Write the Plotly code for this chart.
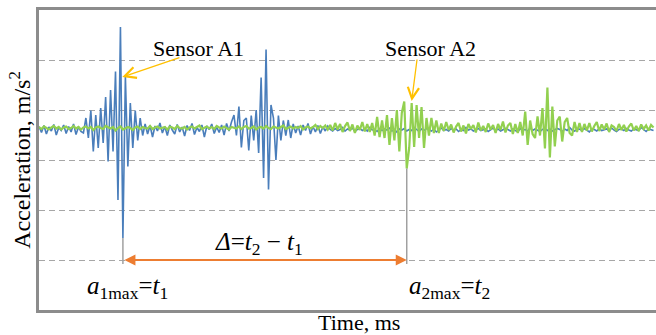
import plotly.graph_objects as go

# ---------------- data ----------------
SAMPLE_MS = 0.2  # sampling interval of both records, ms

# Sensor A1 (blue) acceleration record, m/s^2
sensor_a1 = [
    0.3, -0.9, 0.5, -1.2, 0.2, -0.6, 0.7, -1.4, 0.1, -0.5,
    0.6, -1.1, 0.3, -0.8, 0.8, -1.3, 0.2, -0.7, -1.0, 2.0,
    -2.0, 3.5, -4.7, 2.6, -4.0, 4.0, -3.0, 6.2, -6.7, 7.6,
    -4.7, 11.3, -14.4, 20.2, -22.0, 10.3, -7.7, 5.0, -4.0, 3.5,
    -2.5, 2.0, -1.5, 0.8, -1.2, 0.5, -1.8, 0.4, -0.6, 1.0,
    -1.0, 0.3, -1.5, 0.6, -0.4, -1.2, 0.7, -0.8, 0.2, -1.6,
    0.5, -0.5, 0.9, -1.3, 0.1, -0.7, 0.6, -1.8, 0.4, -0.3,
    0.8, -1.1, 0.2, -0.9, 0.6, -1.4, 0.9, -0.6, 1.2, 2.6,
    -1.5, 4.3, -3.9, 1.5, 2.0, -4.5, 2.5, -2.5, 3.6, -5.0,
    10.1, -10.0, 15.7, -12.3, 4.6, 2.0, -6.4, 2.5, -2.5, 1.5,
    -1.5, 1.6, -2.0, 0.8, -1.0, 0.4, -1.4, 0.6, -0.5, 0.9,
    -1.2, 0.3, -0.8, 0.5, -1.1, 0.2, -0.6, 0.4, -0.3, -0.6,
    -0.1, -0.5, -0.3, 0.1, -0.6, -0.2, -0.4, 0.0, -0.7, -0.3,
    -0.1, -0.5, -0.2, -0.6, 0.1, -0.4, -0.3, -0.7, -0.1, -0.5,
    -0.2, -0.4, 0.0, -0.6, -0.3, -0.8, -0.2, -0.4, -0.1, -0.6,
    -0.3, -0.5, 0.1, -0.4, -0.7, -0.2, -0.5, -0.1, -0.3, -0.6,
    -0.2, -0.8, -0.4, 0.0, -0.5, -0.3, -0.6, -0.1, -0.4, -0.2,
    -0.7, -0.3, -0.5, 0.1, -0.4, -0.2, -0.6, -0.3, -0.1, -0.5,
    -0.4, -0.2, -0.7, -0.3, 0.0, -0.5, -0.2, -0.6, -0.4, -0.1,
    -0.3, -0.6, -0.2, -0.5, -0.8, -0.1, -0.4, -0.3, -0.6, 0.0,
    -0.5, -0.2, -0.4, -0.7, -0.3, -0.1, -0.5, -0.2, -0.6, -0.4,
    -0.1, -0.3, -0.7, -0.2, -0.5, 0.1, -0.4, -0.6, -0.3, -0.2,
    -0.5, -0.1, -0.4, -0.8, -0.2, -0.3, -0.6, -0.1, -0.5, -0.3,
    -0.2, -0.6, 0.0, -0.4, -0.7, -0.3, -0.2, -0.5, -0.1, -0.4,
    -0.6, -0.2, -0.3, -0.5, 0.1, -0.4, -0.7, -0.2, -0.3, -0.5,
]

# Sensor A2 (green) acceleration record, m/s^2
sensor_a2 = [
    0.2, -0.2, 0.3, 0.0, -0.3, 0.1, 0.4, -0.1, 0.2, -0.3,
    0.1, 0.3, -0.2, 0.0, 0.4, -0.1, 0.2, -0.3, 0.1, 0.3,
    -0.1, 0.2, -0.4, 0.1, 0.3, 0.0, -0.2, 0.4, 0.1, -0.1,
    0.2, -0.5, 0.0, 0.3, -0.3, -0.1, 0.2, 0.0, -0.4, 0.1,
    0.3, -0.2, 0.2, 0.0, -0.1, 0.4, -0.2, 0.1, 0.3, -0.1,
    0.0, 0.2, -0.3, 0.3, 0.1, -0.2, 0.4, 0.0, -0.1, 0.2,
    -0.3, 0.1, 0.3, -0.1, 0.2, 0.5, -0.2, 0.0, 0.3, -0.1,
    0.2, -0.2, 0.4, 0.1, -0.1, 0.3, 0.0, -0.3, 0.2, 0.1,
    -0.1, 0.3, -0.2, 0.2, 0.4, -0.1, 0.0, 0.3, -0.3, 0.1,
    0.2, -0.1, 0.4, 0.0, -0.2, 0.3, 0.1, -0.1, 0.2, 0.5,
    -0.2, 0.1, 0.3, -0.1, 0.2, 0.0, 0.4, -0.3, 0.1, 0.3,
    -0.1, 0.2, 0.6, -0.2, 0.4, 0.0, 0.5, -0.3,
    0.6, -0.5, 1.0, -0.3, 0.8, -0.8, 0.4, 1.1, -0.6, 0.7,
    -1.0, 0.5, -0.4, 1.2, -0.7,
    0.8, -0.8, 1.0, -1.5, 2.2, -1.8, 1.5, -2.0, 2.6, -3.4,
    2.0, -2.5, 3.6, -4.7, 3.0, 5.3, -8.1, -4.0, 5.0, -3.8,
    4.6, -2.0, 4.2, -4.0, 2.0, -1.5, 2.0, -1.0, 1.5, -1.0,
    0.9, -0.6, 1.2, -0.4, 0.7, -0.9, 0.3, 1.0, -0.7, 0.5,
    -1.1, 0.8, -0.2, 0.6, -0.9, 1.1, -0.5, 0.4, -0.8, 0.9,
    -0.3, 0.6, -1.0, 0.8, -0.4, 1.3, -0.9, 0.5,
    1.0, -1.2, 0.8, -1.0, 1.2, -1.5, 3.3, -3.4, 1.5, -1.2,
    -2.0, 2.3, -1.5, 4.0, -4.1, 8.1, -5.9, 4.3, -3.7, 1.5,
    2.3, -2.7, 1.2, 2.0, -1.0, -1.5, 1.2, -0.8, 1.0, -0.8,
    0.8, -0.5, 1.0, -0.7, 0.4, 1.2, -0.6, 0.7, -0.3, 0.9,
    -0.8, 0.5, 0.2, -0.6, 0.8, -0.4, 0.6, -0.7, 0.3, 0.9,
    -0.5, 0.4, -0.6, 0.7, -0.2, 0.5, -0.5, 0.6, 0.1,
]

time_a1 = [round(i * SAMPLE_MS, 3) for i in range(len(sensor_a1))]
time_a2 = [round(i * SAMPLE_MS, 3) for i in range(len(sensor_a2))]

X_RANGE = [0, 50]
Y_RANGE = [-36.4, 23.6]
GRID_TICK0 = 3.6
GRID_STEP = 10
ARROW_LEVEL = GRID_TICK0 - 3 * GRID_STEP  # lowest dashed grid line

# ---------------- derived marker positions ----------------
i1 = min(range(len(sensor_a1)), key=lambda i: sensor_a1[i])
i2 = min(range(len(sensor_a2)), key=lambda i: sensor_a2[i])
t1, a1min = time_a1[i1], sensor_a1[i1]
t2, a2min = time_a2[i2], sensor_a2[i2]

FAMILY = "Times New Roman, Liberation Serif, serif"
FONT = dict(family=FAMILY, size=22, color="black")
FONT_MATH = dict(family=FAMILY, size=25, color="black")
FONT_YT = dict(family=FAMILY, size=24, color="black")
BLUE = "#4A7EBB"
GREEN = "#92D050"
YELLOW = "#FFC000"
ORANGE = "#ED7D31"
GREY = "#A6A6A6"
FRAME = "#8C8C8C"

fig = go.Figure()
fig.add_trace(go.Scatter(x=time_a1, y=sensor_a1, mode="lines",
                         line=dict(color=BLUE, width=1.6), name="Sensor A1"))
fig.add_trace(go.Scatter(x=time_a2, y=sensor_a2, mode="lines",
                         line=dict(color=GREEN, width=2.2), name="Sensor A2"))

# grey drop lines from the peaks down to the arrow level
for tt, aa in ((t1, a1min), (t2, a2min)):
    fig.add_shape(type="line", xref="x", yref="y", x0=tt, x1=tt,
                  y0=aa, y1=ARROW_LEVEL - 0.8,
                  line=dict(color="#A0A0A0", width=1.5))

ann = []
# sensor labels
ann.append(dict(x=12.9, y=16.0, xref="x", yref="y", text="Sensor A1",
                showarrow=False, font=FONT))
ann.append(dict(x=31.7, y=16.0, xref="x", yref="y", text="Sensor A2",
                showarrow=False, font=FONT))
# yellow pointers
ann.append(dict(x=6.75, y=10.2, xref="x", yref="y", ax=11.5, ay=14.2,
                axref="x", ayref="y", text="", showarrow=True,
                arrowhead=5, arrowsize=1.7, arrowwidth=1.3, arrowcolor=YELLOW))
ann.append(dict(x=30.2, y=5.4, xref="x", yref="y", ax=30.65, ay=14.0,
                axref="x", ayref="y", text="", showarrow=True,
                arrowhead=5, arrowsize=1.7, arrowwidth=1.3, arrowcolor=YELLOW))
# orange double arrow between t1 and t2
ann.append(dict(x=t2, y=ARROW_LEVEL, xref="x", yref="y", ax=t1, ay=ARROW_LEVEL,
                axref="x", ayref="y", text="", showarrow=True,
                arrowhead=2, startarrowhead=2, arrowside="end+start",
                arrowsize=1.1, startarrowsize=1.1, arrowwidth=2, arrowcolor=ORANGE))
# delta label
ann.append(dict(x=(t1 + t2) / 2, y=-23.0, xref="x", yref="y", xshift=-6,
                text="<i>Δ</i>=<i>t</i><sub>2</sub> − <i>t</i><sub>1</sub>",
                showarrow=False, font=FONT_MATH))
# peak time labels
ann.append(dict(x=t1, y=-31.8, xref="x", yref="y", xshift=5, xanchor="center",
                text="<i>a</i><sub>1max</sub>=<i>t</i><sub>1</sub>",
                showarrow=False, font=FONT_MATH))
ann.append(dict(x=t2, y=-31.8, xref="x", yref="y", xanchor="left",
                text="<i>a</i><sub>2max</sub>=<i>t</i><sub>2</sub>",
                showarrow=False, font=FONT_MATH))
# axis titles
ann.append(dict(x=-0.031, y=0.5, xref="paper", yref="paper", textangle=-90,
                xanchor="center", yanchor="middle",
                text="Acceleration, m/s<sup>2</sup>", showarrow=False, font=FONT_YT))
ann.append(dict(x=0.518, y=-0.04, xref="paper", yref="paper", yanchor="middle",
                xanchor="center",
                text="Time, ms", showarrow=False, font=FONT))

fig.update_layout(
    width=656, height=335,
    margin=dict(l=39, r=0, t=10, b=25),
    paper_bgcolor="white", plot_bgcolor="white",
    showlegend=False,
    annotations=ann,
    xaxis=dict(range=X_RANGE, showgrid=False, showticklabels=False, ticks="",
               zeroline=False, showline=True, mirror=True,
               linecolor=FRAME, linewidth=2.5),
    yaxis=dict(range=Y_RANGE, tick0=GRID_TICK0, dtick=GRID_STEP,
               showgrid=True, gridcolor=GREY, gridwidth=1.3, griddash="6px,4px",
               showticklabels=False, ticks="", zeroline=False,
               showline=True, mirror=False, linecolor=FRAME, linewidth=2.5),
)

fig.write_html("out.html", config={"displayModeBar": False},
               post_script="document.body.style.margin='0';document.body.style.overflow='hidden';")
